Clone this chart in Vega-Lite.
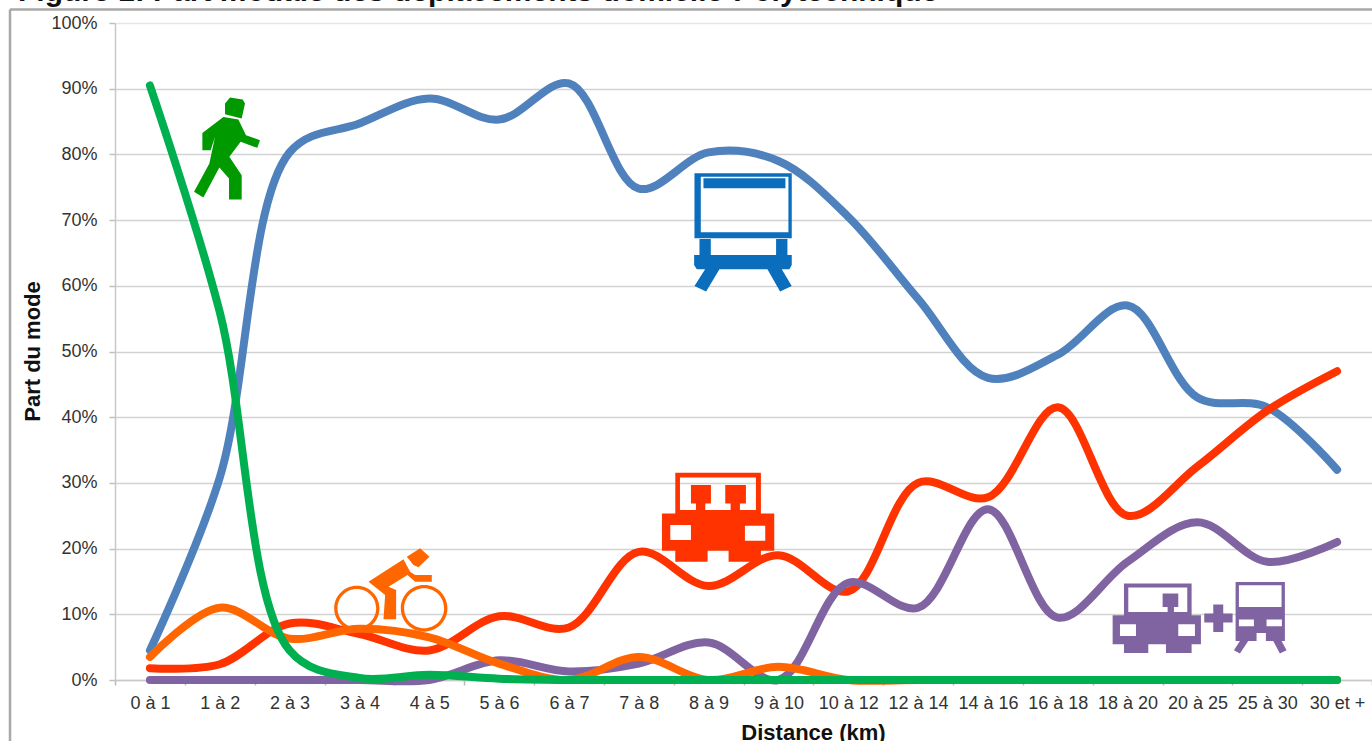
{
"$schema":"https://vega.github.io/schema/vega-lite/v6.json",
"width":1257,"height":657,
"autosize":{"type":"none"},
"padding":{"left":115,"top":23,"right":0,"bottom":61},
"background":"white",
"config":{"view":{"stroke":null},"font":"Liberation Sans"},
"datasets":{"parts":[
{"Distance":"0 à 1","Mode":"Transport en commun","Part":4.5},{"Distance":"1 à 2","Mode":"Transport en commun","Part":30.8},{"Distance":"2 à 3","Mode":"Transport en commun","Part":80.3},{"Distance":"3 à 4","Mode":"Transport en commun","Part":84.7},{"Distance":"4 à 5","Mode":"Transport en commun","Part":88.5},{"Distance":"5 à 6","Mode":"Transport en commun","Part":85.3},{"Distance":"6 à 7","Mode":"Transport en commun","Part":90.8},{"Distance":"7 à 8","Mode":"Transport en commun","Part":74.8},{"Distance":"8 à 9","Mode":"Transport en commun","Part":80.3},{"Distance":"9 à 10","Mode":"Transport en commun","Part":79},{"Distance":"10 à 12","Mode":"Transport en commun","Part":70.5},{"Distance":"12 à 14","Mode":"Transport en commun","Part":58},{"Distance":"14 à 16","Mode":"Transport en commun","Part":46},{"Distance":"16 à 18","Mode":"Transport en commun","Part":49.5},{"Distance":"18 à 20","Mode":"Transport en commun","Part":57},{"Distance":"20 à 25","Mode":"Transport en commun","Part":43},{"Distance":"25 à 30","Mode":"Transport en commun","Part":41.5},{"Distance":"30 et +","Mode":"Transport en commun","Part":32},
{"Distance":"0 à 1","Mode":"Voiture","Part":1.8},{"Distance":"1 à 2","Mode":"Voiture","Part":2.4},{"Distance":"2 à 3","Mode":"Voiture","Part":8.6},{"Distance":"3 à 4","Mode":"Voiture","Part":7},{"Distance":"4 à 5","Mode":"Voiture","Part":4.5},{"Distance":"5 à 6","Mode":"Voiture","Part":9.7},{"Distance":"6 à 7","Mode":"Voiture","Part":8},{"Distance":"7 à 8","Mode":"Voiture","Part":19.5},{"Distance":"8 à 9","Mode":"Voiture","Part":14.3},{"Distance":"9 à 10","Mode":"Voiture","Part":19},{"Distance":"10 à 12","Mode":"Voiture","Part":13.5},{"Distance":"12 à 14","Mode":"Voiture","Part":30},{"Distance":"14 à 16","Mode":"Voiture","Part":27.8},{"Distance":"16 à 18","Mode":"Voiture","Part":41.5},{"Distance":"18 à 20","Mode":"Voiture","Part":25},{"Distance":"20 à 25","Mode":"Voiture","Part":32.5},{"Distance":"25 à 30","Mode":"Voiture","Part":41},{"Distance":"30 et +","Mode":"Voiture","Part":47},
{"Distance":"0 à 1","Mode":"Voiture + TC","Part":0},{"Distance":"1 à 2","Mode":"Voiture + TC","Part":0},{"Distance":"2 à 3","Mode":"Voiture + TC","Part":0},{"Distance":"3 à 4","Mode":"Voiture + TC","Part":0},{"Distance":"4 à 5","Mode":"Voiture + TC","Part":0},{"Distance":"5 à 6","Mode":"Voiture + TC","Part":3},{"Distance":"6 à 7","Mode":"Voiture + TC","Part":1.3},{"Distance":"7 à 8","Mode":"Voiture + TC","Part":2.5},{"Distance":"8 à 9","Mode":"Voiture + TC","Part":5.7},{"Distance":"9 à 10","Mode":"Voiture + TC","Part":0},{"Distance":"10 à 12","Mode":"Voiture + TC","Part":14.8},{"Distance":"12 à 14","Mode":"Voiture + TC","Part":11},{"Distance":"14 à 16","Mode":"Voiture + TC","Part":26},{"Distance":"16 à 18","Mode":"Voiture + TC","Part":9.5},{"Distance":"18 à 20","Mode":"Voiture + TC","Part":18},{"Distance":"20 à 25","Mode":"Voiture + TC","Part":24},{"Distance":"25 à 30","Mode":"Voiture + TC","Part":18},{"Distance":"30 et +","Mode":"Voiture + TC","Part":21},
{"Distance":"0 à 1","Mode":"Vélo","Part":3.5},{"Distance":"1 à 2","Mode":"Vélo","Part":11},{"Distance":"2 à 3","Mode":"Vélo","Part":6.3},{"Distance":"3 à 4","Mode":"Vélo","Part":7.8},{"Distance":"4 à 5","Mode":"Vélo","Part":6.5},{"Distance":"5 à 6","Mode":"Vélo","Part":2.5},{"Distance":"6 à 7","Mode":"Vélo","Part":0},{"Distance":"7 à 8","Mode":"Vélo","Part":3.5},{"Distance":"8 à 9","Mode":"Vélo","Part":0},{"Distance":"9 à 10","Mode":"Vélo","Part":2},{"Distance":"10 à 12","Mode":"Vélo","Part":0},{"Distance":"12 à 14","Mode":"Vélo","Part":0},{"Distance":"14 à 16","Mode":"Vélo","Part":0},{"Distance":"16 à 18","Mode":"Vélo","Part":0},{"Distance":"18 à 20","Mode":"Vélo","Part":0},{"Distance":"20 à 25","Mode":"Vélo","Part":0},{"Distance":"25 à 30","Mode":"Vélo","Part":0},{"Distance":"30 et +","Mode":"Vélo","Part":0},
{"Distance":"0 à 1","Mode":"Marche","Part":90.5},{"Distance":"1 à 2","Mode":"Marche","Part":56},{"Distance":"2 à 3","Mode":"Marche","Part":4.5},{"Distance":"3 à 4","Mode":"Marche","Part":0.3},{"Distance":"4 à 5","Mode":"Marche","Part":0.8},{"Distance":"5 à 6","Mode":"Marche","Part":0.2},{"Distance":"6 à 7","Mode":"Marche","Part":0},{"Distance":"7 à 8","Mode":"Marche","Part":0},{"Distance":"8 à 9","Mode":"Marche","Part":0},{"Distance":"9 à 10","Mode":"Marche","Part":0},{"Distance":"10 à 12","Mode":"Marche","Part":0},{"Distance":"12 à 14","Mode":"Marche","Part":0},{"Distance":"14 à 16","Mode":"Marche","Part":0},{"Distance":"16 à 18","Mode":"Marche","Part":0},{"Distance":"18 à 20","Mode":"Marche","Part":0},{"Distance":"20 à 25","Mode":"Marche","Part":0},{"Distance":"25 à 30","Mode":"Marche","Part":0},{"Distance":"30 et +","Mode":"Marche","Part":0}
]},
"encoding":{
"x":{"field":"Distance","type":"nominal","sort":null,
"scale":{"type":"band","paddingInner":0,"paddingOuter":0,"domain":["0 à 1","1 à 2","2 à 3","3 à 4","4 à 5","5 à 6","6 à 7","7 à 8","8 à 9","9 à 10","10 à 12","12 à 14","14 à 16","16 à 18","18 à 20","20 à 25","25 à 30","30 et +"]},
"axis":{"title":"Distance (km)","titleFontSize":22,"titleFontWeight":"bold","titleColor":"#111111","titleX":698,"titleY":42,"labelAngle":0,"labelFontSize":18,"labelColor":"#333333","labelPadding":9,"labelOverlap":false,"tickBand":"extent","tickSize":5,"tickColor":"#b8b8b8","tickWidth":1.5,"domainColor":"#c8c8c8","domainWidth":1.5,"grid":false}},
"y":{"field":"Part","type":"quantitative","scale":{"domain":[0,100],"nice":false,"zero":false},
"axis":{"title":"Part du mode","titleFontSize":22,"titleFontWeight":"bold","titleColor":"#111111","titleX":-71,"titleY":328,"values":[0,10,20,30,40,50,60,70,80,90,100],"labelExpr":"datum.value + '%'","labelFontSize":18,"labelColor":"#333333","labelPadding":12,"tickSize":6,"tickColor":"#c0c0c0","tickWidth":1.5,"domainColor":"#c8c8c8","domainWidth":1.5,"grid":true,"gridColor":{"condition":{"test":"datum.value === 100","value":"#e6e6e6"},"value":"#d2d2d2"},"gridWidth":1.5}}
},
"layer":[
{"data":{"values":[{"Titre":"Figure 1: Part modale des déplacements domicile-Polytechnique","Part":103.4}]},"mark":{"type":"text","align":"left","baseline":"alphabetic","fontSize":30,"fontWeight":"bold","font":"Liberation Sans","color":"#111111"},"encoding":{"x":{"value":-97},"text":{"field":"Titre"}}},
{"data":{"values":[{"Cadre":"haut","Part":102.05}]},"mark":{"type":"rule","color":"#a8a8a8","strokeWidth":2.5},"encoding":{"x":{"value":-105},"x2":{"value":1257}}},
{"data":{"values":[{"Cadre":"gauche","Part":102.05,"Bas":-9.3}]},"mark":{"type":"rule","color":"#a8a8a8","strokeWidth":2.5},"encoding":{"x":{"value":-105},"y2":{"field":"Bas"}}},
{"data":{"name":"parts"},"mark":{"type":"line","interpolate":"catmull-rom","strokeWidth":8,"strokeCap":"round","strokeJoin":"round","clip":false},
"encoding":{"color":{"field":"Mode","type":"nominal","legend":null,"sort":null,"scale":{"domain":["Transport en commun","Voiture","Voiture + TC","Vélo","Marche"],"range":["#4F81BD","#FF3300","#8064A2","#FF6600","#00B050"]}}}},
{"data":{"values":[{"Distance":"1 à 2","Part":81.4}]},"mark":{"type":"point","filled":true,"opacity":1,"strokeWidth":0,"size":0.444,"color":"#009A00","shape":"M0,-143 L38,-137 L45,-125 L35,-80 L-15,-93 L-15,-125 Z M-20,-85 L25,-77 L48,-30 L90,-15 L82,8 L32,-10 L-2,35 L35,90 L35,163 L-3,163 L-3,100 L-32,67 L-80,157 L-108,140 L-62,55 L-45,-25 L-58,15 L-83,15 L-83,-37 Z"},"encoding":{"x":{"field":"Distance","type":"nominal","sort":null,"bandPosition":0.647}}},
{"data":{"values":[{"Distance":"9 à 10","Part":68.5}]},"mark":{"type":"point","filled":true,"opacity":1,"strokeWidth":0,"size":0.444,"color":"#0A6EBD","shape":"M-152,-170 H140 V25 H-152 Z M-133,-160 V7 H130 V-160 Z M-125,-155 H121 V-125 H-125 Z M-137,27 H-103 V75 H-137 Z M93,27 H127 V75 H93 Z M-153,75 H140 V105 L133,118 H-145 L-153,105 Z M-120,118 H-77 L-117,185 L-152,168 Z M67,118 H110 L140,168 L105,185 Z"},"encoding":{"x":{"field":"Distance","type":"nominal","sort":null,"bandPosition":0.023}}},
{"data":{"values":[{"Distance":"8 à 9","Part":25.1}]},"mark":{"type":"point","filled":true,"opacity":1,"strokeWidth":0,"size":0.444,"color":"#FF3300","shape":"M-132,-127 H125 V-5 H165 V107 H125 V140 H28 V107 H-35 V140 H-132 V107 H-172 V-5 H-132 Z M-118,-113 V-15 H110 V-113 Z M-85,-90 H-25 V-35 H-42 V-15 H-70 V-35 H-85 Z M18,-90 H80 V-35 H62 V-15 H34 V-35 H18 Z M-147,30 V75 H-85 V30 Z M77,32 V77 H138 V32 Z"},"encoding":{"x":{"field":"Distance","type":"nominal","sort":null,"bandPosition":0.653}}},
{"data":{"values":[{"Distance":"3 à 4","Part":13.7}]},"mark":{"type":"point","filled":true,"opacity":1,"strokeWidth":0,"size":0.444,"color":"#FF6600","shape":"M-168,55 A68,68 0 1 1 -32,55 A68,68 0 1 1 -168,55 Z M-158,55 A58,58 0 1 0 -42,55 A58,58 0 1 0 -158,55 Z M32,55 A70,70 0 1 1 172,55 A70,70 0 1 1 32,55 Z M42,55 A60,60 0 1 0 162,55 A60,60 0 1 0 42,55 Z M-65,-25 L40,-92 L60,-55 L75,-45 H125 V-25 H75 L52,-45 L-5,-10 L18,0 V88 H-20 L-15,15 Z M50,-100 L90,-125 L118,-100 L85,-68 L70,-75 Z"},"encoding":{"x":{"field":"Distance","type":"nominal","sort":null,"bandPosition":0.94}}},
{"data":{"values":[{"Distance":"20 à 25","Part":9.5}]},"mark":{"type":"point","filled":true,"opacity":1,"strokeWidth":0,"size":0.444,"color":"#8064A2","shape":"M-228,-102 H-25 V-7 H3 V80 H-25 V106 H-102 V80 H-155 V106 H-228 V80 H-262 V-7 H-228 Z M-215,-90 V-17 H-38 V-90 Z M-112,-72 H-65 V-32 H-78 V-17 H-97 V-32 H-112 Z M-240,20 V55 H-192 V20 Z M-65,20 V55 H-15 V20 Z M40,-39 H70 V-12 H98 V15 H70 V43 H40 V15 H13 V-12 H40 Z M107,-107 H255 V70 H198 V46 H170 V70 H107 Z M117,-97 V-32 H245 V-97 Z M117,6 V26 H162 V6 Z M200,6 V26 H246 V6 Z M120,70 H145 L120,108 L102,98 Z M220,70 H245 L260,98 L240,108 Z"},"encoding":{"x":{"field":"Distance","type":"nominal","sort":null,"bandPosition":0.536}}}
]
}
